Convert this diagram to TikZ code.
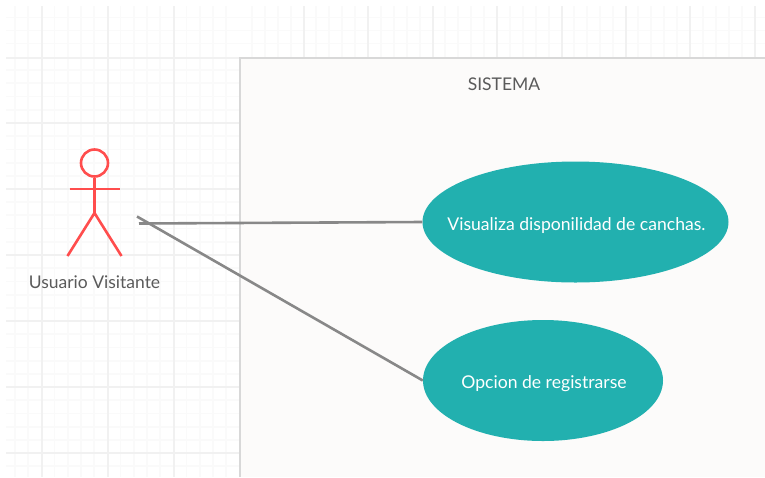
\documentclass[tikz,border=0pt]{standalone}
\usepackage{fontspec}
\setmainfont{Lato}
\usetikzlibrary{shapes.geometric}
\definecolor{gridminor}{HTML}{FAFAFA}
\definecolor{gridmajor}{HTML}{F1F1F1}
\definecolor{sysfill}{HTML}{FCFBFA}
\definecolor{sysline}{HTML}{D8D8D8}
\definecolor{teal}{HTML}{22B0AF}
\definecolor{actorred}{HTML}{FF4D4D}
\definecolor{linkgrey}{HTML}{888888}
\definecolor{labelgrey}{HTML}{5A5A5A}
\tikzset{
  x=1pt,y=-1pt,
  gridmin/.style={draw=gridminor,line width=1.4pt},
  gridmaj/.style={draw=gridmajor,line width=2pt},
  usecase/.style={ellipse,fill=teal,text=white,inner sep=0pt,text height=0pt,text depth=0pt,font=\fontsize{17.6}{20}\selectfont},
  actorline/.style={draw=actorred,line width=2.6pt},
  link/.style={draw=linkgrey,line width=2.6pt},
  lbl/.style={text=labelgrey,inner sep=0pt,font=\fontsize{17.5}{20}\selectfont}
}
\begin{document}
\begin{tikzpicture}
\useasboundingbox (0,0) rectangle (765,477);
\fill[white] (0,0) rectangle (765,477);
% minor grid
\foreach \gx in {15,28,54.5,68,81,94,120.5,134,147,160,186.5,200,213,226,252,265,278,291,316,329,342,355,381,394,407,420,445,458,471,484,510,523,536,549,574,587,600,613,638,651,664,677,703,716,729,742}
  \draw[gridmin] (\gx,6) -- (\gx,477);
\foreach \gy in {17.5,30.5,43.5,70,83,96.5,110,136,149.5,163,176,202,215,228.5,242,268,281.5,295,308,334,347.5,361,374,400,413.5,427,440,466}
  \draw[gridmin] (6,\gy) -- (765,\gy);
% major grid
\foreach \gx in {41.5,107.5,173.5,303.5,368,432.5,497,561.5,625.5,690,754.5}
  \draw[gridmaj] (\gx,6) -- (\gx,477);
\foreach \gy in {57.5,123,189,255,321,387,453}
  \draw[gridmaj] (6,\gy) -- (765,\gy);
% system boundary
\fill[sysfill] (239.5,57.5) rectangle (765,477);
\draw[draw=sysline,line width=2pt] (239.5,477) -- (239.5,57.5) -- (765,57.5);
\node[lbl] (sistema) at (504,84.5) {SISTEMA};
% actor
\node[circle,draw=actorred,line width=2.6pt,minimum size=27pt,inner sep=0pt] (head) at (94.5,163) {};
\coordinate (hip) at (94.5,213);
\coordinate (armL) at (69.5,189);
\coordinate (armR) at (119.5,189);
\coordinate (legL) at (67.5,256);
\coordinate (legR) at (121.5,256);
\draw[actorline] (head.south) -- (hip);
\draw[actorline] (armL) -- (armR);
\draw[actorline] (legL) -- (hip) -- (legR);
\node[lbl] (actor) at (94.5,282) {Usuario Visitante};
% use cases
\node[usecase,minimum width=306pt,minimum height=121pt] (uc1) at (575.5,222) {\makebox[0pt]{\hspace{2pt}\raisebox{-8pt}{Visualiza disponilidad de canchas.}}};
\node[usecase,minimum width=240pt,minimum height=121pt] (uc2) at (543,380.5) {\makebox[0pt]{\hspace{2pt}\raisebox{-8pt}{Opcion de registrarse}}};
% connectors
\coordinate (from1) at (139,223.5);
\coordinate (from2) at (137,216.5);
\draw[link] (from1) -- (uc1.west);
\draw[link] (from2) -- (uc2.west);
\end{tikzpicture}
\end{document}
